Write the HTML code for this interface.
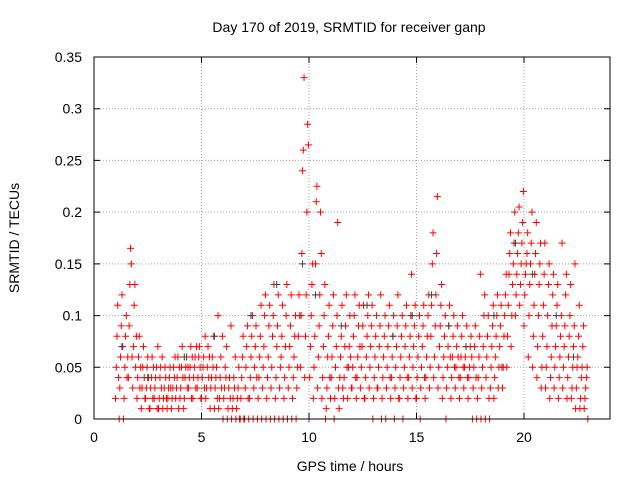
<!DOCTYPE html>
<html><head><meta charset="utf-8"><style>
html,body{margin:0;padding:0;background:#fff;}
svg{display:block;font-family:"Liberation Sans",sans-serif;}
</style></head><body>
<svg id="chart" width="640" height="480" viewBox="0 0 640 480" xmlns="http://www.w3.org/2000/svg">
<text x="349" y="32" font-size="14" text-anchor="middle">Day 170 of 2019, SRMTID for receiver ganp</text>
<text x="350" y="471" font-size="14" text-anchor="middle">GPS time / hours</text>
<text x="19" y="238" font-size="14" text-anchor="middle" transform="rotate(-90 19 238)">SRMTID / TECUs</text>
<g id="grid"></g>
<g id="points"></g>
<g id="axes"></g>
</svg>
<script>
const xTicks=[0,5,10,15,20];
const yTicks=[0,0.05,0.1,0.15,0.2,0.25,0.3,0.35];
const yTickLabels=["0","0.05","0.1","0.15","0.2","0.25","0.3","0.35"];
// rows: [time, values...] in 0.2 h bins
const redRows=[
[1.0,.02,.05,.08,.11,.04,0],[1.2,.03,.06,.09,.12,.07,0],[1.4,.02,.05,.08,.10,.04,.06],
[1.6,.04,.09,.13,.165,.15,.06],[1.8,.03,.07,.11,.13,.05,.08],[2.0,.02,.04,.06,.08,.03,.05],
[2.2,.01,.03,.05,.07,.04,.02],[2.4,.02,.03,.05,.06,.04,.01],[2.6,.01,.03,.04,.06,.02,.05],
[2.8,.02,.03,.04,.05,.01,.07],[3.0,.01,.02,.04,.05,.03,.06],[3.2,.01,.02,.03,.05,.04,.02],
[3.4,.01,.02,.03,.04,.05,.03],[3.6,.01,.02,.03,.05,.04,.06],[3.8,.02,.03,.04,.06,.01,.05],
[4.0,.02,.03,.05,.07,.04,.01],[4.2,.02,.04,.05,.06,.03,.05],[4.4,.03,.04,.05,.07,.02,.06],
[4.6,.02,.04,.05,.06,.03,.07],[4.8,.03,.04,.06,.07,.05,.02],[5.0,.02,.04,.05,.06,.03,.08],
[5.2,.02,.03,.05,.07,.04,.06],[5.4,.01,.03,.04,.06,.05,.08],[5.6,.01,.03,.04,.05,.02,.10],
[5.8,.01,.02,.04,.06,.03,.08],[6.0,0,.02,.03,.05,.04,.07],[6.2,0,.01,.03,.04,.02,.09],
[6.4,0,.01,.02,.04,.03,.06],[6.6,0,.01,.02,.03,.05,0],[6.8,0,.02,.04,.06,.08,0],
[7.0,0,.03,.05,.07,.09,.02],[7.2,0,.02,.04,.06,.08,.1],[7.4,0,.03,.05,.07,.09,.04],
[7.6,0,.02,.04,.06,.08,.11],[7.8,0,.03,.05,.07,.10,.12],[8.0,0,.02,.04,.06,.09,.11],
[8.2,0,.03,.05,.08,.10,.13],[8.4,0,.02,.04,.07,.09,.12],[8.6,0,.03,.05,.06,.08,.11],
[8.8,0,.02,.04,.07,.10,.13],[9.0,0,.03,.05,.07,.09,.12],[9.2,0,.02,.04,.06,.08,.10],
[9.4,0,.03,.05,.08,.12,.10],[9.6,.05,.1,.16,.24,.26,.33],[9.8,.04,.08,.12,.2,.285,.265],
[10.0,0,.04,.07,.1,.13,.15],[10.2,.02,.05,.08,.15,.21,.225],[10.4,.03,.06,.09,.12,.2,.16],
[10.6,.02,.04,.07,.1,.13,0],[10.8,.01,.03,.06,.08,.11,.04],[11.0,.02,.04,.06,.09,.12,0],
[11.2,.02,.05,.07,.1,.19,.03],[11.4,.01,.04,.06,.08,.11,.03],[11.6,.02,.04,.07,.09,.12,.05],
[11.8,.02,.05,.07,.10,.06,.03],[12.0,.03,.05,.08,.10,.12,.04],[12.2,.02,.04,.06,.09,.11,.07],
[12.4,.03,.05,.07,.09,.11,.02],[12.6,.02,.04,.06,.08,.10,.12],[12.8,.03,.05,.07,.09,.11,0],
[13.0,.02,.04,.06,.08,.10,.03],[13.2,.03,.05,.07,.09,.12,0],[13.4,.02,.04,.06,.08,.10,0],
[13.6,.03,.05,.07,.09,.11,.04],[13.8,.02,.04,.06,.08,.10,0],[14.0,.03,.05,.07,.09,.12,.02],
[14.2,.02,.04,.06,.08,.10,0],[14.4,.03,.05,.07,.09,.11,.04],[14.6,.02,.04,.06,.08,.10,.14],
[14.8,.03,.05,.07,.09,.11,.02],[15.0,.02,.04,.06,.08,.10,0],[15.2,.03,.05,.07,.09,.11,.04],
[15.4,.02,.04,.06,.08,.10,.12],[15.6,.03,.05,.08,.11,.15,.18],[15.8,.04,.06,.09,.12,.16,.215],
[16.0,.03,.05,.07,.09,.11,.13],[16.2,.02,.04,.06,.08,.10,0],[16.4,.03,.05,.07,.09,.11,.06],
[16.6,.02,.04,.06,.08,.10,.05],[16.8,.03,.05,.07,.09,.06,.04],[17.0,.02,.04,.06,.08,.10,.05],
[17.2,.03,.05,.06,.07,.09,.04],[17.4,.02,.04,.05,.07,.08,.06],[17.6,0,.03,.05,.07,.09,.04],
[17.8,0,.02,.04,.06,.08,.14],[18.0,0,.03,.05,.07,.1,.12],[18.2,0,.04,.06,.08,.1,.02],
[18.4,0,.03,.05,.07,.09,.11],[18.6,.02,.04,.06,.08,.10,.12],[18.8,.03,.05,.07,.09,.11,.05],
[19.0,.03,.05,.08,.10,.12,.14],[19.2,.05,.08,.11,.14,.16,.18],[19.4,.07,.1,.13,.15,.17,.2],
[19.6,.1,.12,.14,.16,.18,.205],[19.8,.11,.13,.15,.17,.19,.22],[20.0,.09,.12,.14,.15,.16,.18],
[20.2,.06,.1,.13,.15,.17,.2],[20.4,.05,.08,.11,.14,.16,.19],[20.6,.04,.07,.1,.13,.15,.17],
[20.8,.03,.05,.08,.11,.14,.17],[21.0,.03,.05,.07,.1,.13,.15],[21.2,.02,.04,.06,.09,.12,.14],
[21.4,.03,.05,.07,.09,.11,.13],[21.6,.02,.04,.06,.08,.10,.17],[21.8,.03,.05,.07,.09,.12,.14],
[22.0,.02,.04,.06,.08,.10,.13],[22.2,.02,.03,.05,.07,.09,.15],[22.4,.01,.03,.05,.06,.08,.11],
[22.6,.01,.02,.04,.05,.07,.09],[22.8,.01,.02,.03,.04,.05,0]];
const darkTimes=[1.3,2.5,4.2,5.6,7.3,8.5,9.7,10.3,11.5,12.7,13.9,14.8,15.7,16.5,17.3,18.6,19.6,20.4,21.5,22.3];
const darkValues=[.07,.04,.06,.08,.1,.13,.15,.12,.09,.11,.08,.1,.12,.09,.07,.1,.17,.14,.1,.06];

const NS="http://www.w3.org/2000/svg";
const X0=94,X1=610,Y0=419,Y1=57,XMAX=24,YMAX=0.35;
function xs(t){return X0+(X1-X0)*t/XMAX;}
function ys(v){return Y0-(Y0-Y1)*v/YMAX;}
function mk(tag,attrs,parent){const e=document.createElementNS(NS,tag);for(const k in attrs)e.setAttribute(k,attrs[k]);parent.appendChild(e);return e;}
const grid=document.getElementById('grid'),pts=document.getElementById('points'),axes=document.getElementById('axes');
xTicks.forEach(t=>{
  if(t>0){const g=mk('line',{x1:xs(t),x2:xs(t),y1:Y0,y2:Y1,stroke:'#a0a0a0','stroke-dasharray':'1,2'},grid);
  
  }
  const tk=mk('path',{d:`M${xs(t)},${Y0}v-6M${xs(t)},${Y1}v6`,stroke:'#000'},axes);
  
  
  const l=mk('text',{x:xs(t),y:Y0+23,'font-size':14,'text-anchor':'middle'},axes);l.textContent=t;
  
  
});
yTicks.forEach((v,i)=>{
  if(v>0&&v<YMAX){const g=mk('line',{x1:X0,x2:X1,y1:ys(v),y2:ys(v),stroke:'#a0a0a0','stroke-dasharray':'1,2'},grid);
  
  }
  const tk=mk('path',{d:`M${X0},${ys(v)}h6M${X1},${ys(v)}h-6`,stroke:'#000'},axes);
  
  
  const l=mk('text',{x:X0-12,y:ys(v)+5,'font-size':14,'text-anchor':'end'},axes);l.textContent=yTickLabels[i];
  
  
});
const b=mk('rect',{x:X0,y:Y1,width:X1-X0,height:Y0-Y1,fill:'none',stroke:'#000'},axes);


function plus(t,v,color){
  const x=xs(t),y=ys(v);
  const p=mk('path',{d:`M${x-3.5},${y}h7M${x},${y-3.5}v7`,stroke:color,'stroke-width':1},pts);
  
  
}
redRows.forEach(r=>{
  const t=r[0];
  for(let i=1;i<r.length;i++){plus(t+(i-1)*0.034,r[i],'#ff0000');}
});
darkTimes.forEach((t,i)=>plus(t,darkValues[i],'#404040'));
</script>
</body></html>
